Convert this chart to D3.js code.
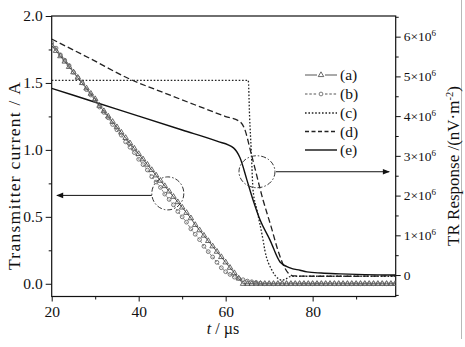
<!DOCTYPE html>
<html><head><meta charset="utf-8">
<script src="https://cdn.jsdelivr.net/npm/d3@7"></script>
<style>
body{margin:0;background:#fff}
svg{display:block}
text{font-family:"Liberation Serif","Times New Roman",serif;fill:#111}
</style>
</head><body>
<svg id="c" width="465" height="347"></svg>
<script>
// ---------- data ----------
const timeI = [20,21,22,23,24,25,26,27,28,29,30,31,32,33,34,35,36,37,38,39,
               40,41,42,43,44,45,46,47,48,49,50,51,52,53,54,55,56,57,58,59,
               60,61,62,63,64,65,66,67,68,69,70,71,72,73,74,75,76,77,78,79,
               80,81,82,83,84,85,86,87,88,89,90,91,92,93,94,95,96,97,98,99];
const currentA = [1.78,1.74,1.70,1.66,1.62,1.58,1.54,1.50,1.46,1.42,
                  1.38,1.33,1.29,1.25,1.21,1.17,1.13,1.09,1.05,1.01,
                  0.97,0.93,0.89,0.85,0.81,0.77,0.73,0.69,0.65,0.61,
                  0.57,0.53,0.49,0.44,0.40,0.36,0.32,0.28,0.24,0.20,
                  0.16,0.12,0.08,0.04,0.00,0,0,0,0,0,
                  0,0,0,0,0,0,0,0,0,0,
                  0,0,0,0,0,0,0,0,0,0,
                  0,0,0,0,0,0,0,0,0,0];
const currentB = [1.80,1.76,1.71,1.67,1.63,1.58,1.54,1.50,1.45,1.41,
                  1.37,1.32,1.28,1.24,1.19,1.15,1.11,1.06,1.02,0.98,
                  0.93,0.89,0.85,0.80,0.76,0.72,0.67,0.63,0.59,0.54,
                  0.50,0.46,0.41,0.37,0.33,0.28,0.24,0.20,0.16,0.12,
                  0.09,0.07,0.05,0.04,0.03,0.02,0.015,0.01,0.005,0,
                  0,0,0,0,0,0,0,0,0,0,
                  0,0,0,0,0,0,0,0,0,0,
                  0,0,0,0,0,0,0,0,0,0];
const timeC = [20,65.2,65.5,65.9,66.3,67.2,68.6,69.0,70.6,72.0,73.0,74.0,74.8,77,99.1];
const respC = [4.9e6,4.9e6,4.0e6,3.1e6,2.14e6,1.64e6,0.88e6,0.63e6,0.13e6,-0.08e6,-0.13e6,-0.09e6,-0.04e6,-0.03e6,-0.03e6];
const timeD = [20,29,38,46,54,60,63.3,64.2,66,68.6,70.5,72,73.5,74.3,75.5,80,90,99.1];
const respD = [5.94e6,5.44e6,4.93e6,4.58e6,4.24e6,3.99e6,3.86e6,3.72e6,3.0e6,1.89e6,1.2e6,0.63e6,0.2e6,0.06e6,-0.02e6,-0.03e6,-0.03e6,-0.02e6];
const timeE = [20,30,40,50,58,61.8,63.3,64.9,66.3,67.9,70.2,72.5,74.8,77.1,78.7,82,86.3,92,99.1];
const respE = [4.7e6,4.35e6,4.0e6,3.65e6,3.37e6,3.2e6,2.95e6,2.39e6,1.89e6,1.39e6,0.88e6,0.33e6,0.18e6,0.12e6,0.08e6,0.05e6,0.03e6,0.01e6,0.0];

const xTicks = [20,40,60,80];
const xMinor = [30,50,70,90];
const yLTicks = [0,0.5,1.0,1.5,2.0];
const yLMinor = [0.25,0.75,1.25,1.75];
const yRTicks = [0,1e6,2e6,3e6,4e6,5e6,6e6];
const yRMinor = [-0.5e6,0.5e6,1.5e6,2.5e6,3.5e6,4.5e6,5.5e6,6.5e6];
const legendLabels = ["(a)","(b)","(c)","(d)","(e)"];

// ---------- layout ----------
const L=51.7, R=395.7, T=16, B=296.5;
const svg = d3.select("#c");
const x = d3.scaleLinear().domain([20,99.1]).range([L,R]);
const yL = d3.scaleLinear().domain([-0.095,2.0]).range([B,T]);
const yR = d3.scaleLinear().domain([-0.54e6,6.52e6]).range([B,T]);

svg.append("rect").attr("width",465).attr("height",347).attr("fill","#fff");
svg.append("line").attr("x1",461.5).attr("x2",461.5).attr("y1",0).attr("y2",339)
   .attr("stroke","#b8b8b8").attr("stroke-width",1);

const defs = svg.append("defs");
defs.append("clipPath").attr("id","clip").append("rect")
   .attr("x",L).attr("y",T).attr("width",R-L).attr("height",B-T);
defs.append("marker").attr("id","ah").attr("viewBox","0 0 10 10")
   .attr("refX",9).attr("refY",5).attr("markerWidth",8).attr("markerHeight",7)
   .attr("markerUnits","userSpaceOnUse").attr("orient","auto")
   .append("path").attr("d","M0,1 L10,5 L0,9 Z").attr("fill","#111");

const fs = 15.5;
function styleAxis(g, size){
  g.select(".domain").remove();
  g.selectAll(".tick line").attr("stroke","#111").attr("stroke-width",1);
  g.selectAll(".tick text").attr("font-size",size).attr("fill","#111");
}
// bottom
svg.append("g").attr("transform",`translate(0,${B})`)
  .call(d3.axisBottom(x).tickValues(xTicks).tickSize(5).tickPadding(4).tickFormat(d3.format("d")))
  .call(g=>styleAxis(g,fs));
svg.append("g").attr("transform",`translate(0,${B})`)
  .call(d3.axisBottom(x).tickValues(xMinor).tickSize(3).tickFormat(""))
  .call(g=>styleAxis(g,fs));
// left
svg.append("g").attr("transform",`translate(${L},0)`)
  .call(d3.axisLeft(yL).tickValues(yLTicks).tickSize(6).tickPadding(3).tickFormat(d3.format(".1f")))
  .call(g=>styleAxis(g,fs));
svg.append("g").attr("transform",`translate(${L},0)`)
  .call(d3.axisLeft(yL).tickValues(yLMinor).tickSize(3).tickFormat(""))
  .call(g=>styleAxis(g,fs));
// right
const gr = svg.append("g").attr("transform",`translate(${R},0)`)
  .call(d3.axisRight(yR).tickValues(yRTicks).tickSize(5).tickPadding(3).tickFormat(""))
  .call(g=>styleAxis(g,13.5));
gr.selectAll(".tick text").each(function(d){
  const t = d3.select(this).text(null).attr("font-size",13.5);
  if(d===0){ t.append("tspan").text("0"); }
  else {
    t.append("tspan").text(`${d/1e6}×10`);
    t.append("tspan").attr("dy",-5).attr("font-size",9).text("6");
  }
});
svg.append("g").attr("transform",`translate(${R},0)`)
  .call(d3.axisRight(yR).tickValues(yRMinor.filter(v=>yR(v)<=B && yR(v)>=T)).tickSize(3).tickFormat(""))
  .call(g=>styleAxis(g,fs));

// frame
svg.append("rect").attr("x",L).attr("y",T).attr("width",R-L).attr("height",B-T)
  .attr("fill","none").attr("stroke","#111").attr("stroke-width",1.2);

// axis titles
svg.append("text").attr("transform","translate(20,176) rotate(-90)")
  .attr("text-anchor","middle").attr("font-size",17.5)
  .attr("textLength",188).attr("lengthAdjust","spacing")
  .text("Transmitter current / A");
const rt = svg.append("text").attr("transform","translate(459,166) rotate(-90)")
  .attr("text-anchor","middle").attr("font-size",17);
rt.append("tspan").text("TR Response /(nV·m");
rt.append("tspan").attr("dy",-6).attr("font-size",10.5).text("-2");
rt.append("tspan").attr("dy",6).text(")");
const xt = svg.append("text").attr("x",223).attr("y",334).attr("text-anchor","middle").attr("font-size",16);
xt.append("tspan").attr("font-style","italic").text("t");
xt.append("tspan").text(" / µs");

// ---------- series ----------
const plot = svg.append("g").attr("clip-path","url(#clip)");
const lineI = d3.line().x(d=>x(d[0])).y(d=>yL(d[1]));
const lineR = d3.line().x(d=>x(d[0])).y(d=>yR(d[1])).curve(d3.curveMonotoneX);

const dA = timeI.map((t,i)=>[t,currentA[i]]);
const dB = timeI.map((t,i)=>[t,currentB[i]]);
const dC = timeC.map((t,i)=>[t,respC[i]]);
const dD = timeD.map((t,i)=>[t,respD[i]]);
const dE = timeE.map((t,i)=>[t,respE[i]]);

plot.append("path").datum(dC).attr("d",lineR).attr("fill","none")
  .attr("stroke","#222").attr("stroke-width",1.3).attr("stroke-dasharray","1.6,1.8");
plot.append("path").datum(dD).attr("d",lineR).attr("fill","none")
  .attr("stroke","#222").attr("stroke-width",1.3).attr("stroke-dasharray","6,3");
plot.append("path").datum(dE).attr("d",lineR).attr("fill","none")
  .attr("stroke","#111").attr("stroke-width",1.4);

plot.append("path").datum(dB).attr("d",lineI).attr("fill","none")
  .attr("stroke","#777").attr("stroke-width",0.9).attr("stroke-dasharray","2.5,1.5");
plot.append("path").datum(dA).attr("d",lineI).attr("fill","none")
  .attr("stroke","#555").attr("stroke-width",1);

const tri = d3.symbol().type(d3.symbolTriangle).size(13);
plot.selectAll(".ta").data(dA).join("path")
  .attr("transform",d=>`translate(${x(d[0])},${yL(d[1])})`)
  .attr("d",tri).attr("fill","none").attr("stroke","#444").attr("stroke-width",0.8);
plot.selectAll(".cb").data(dB).join("circle")
  .attr("cx",d=>x(d[0])).attr("cy",d=>yL(d[1])).attr("r",1.9)
  .attr("fill","none").attr("stroke","#6a6a6a").attr("stroke-width",0.9);

// ---------- annotations ----------
const dash = "5,2,1.5,2";
const e1 = [46.7,0.675], e2 = [67.2,2.6e6];
svg.append("ellipse").attr("cx",x(e1[0])).attr("cy",yL(e1[1])).attr("rx",16).attr("ry",16.5)
  .attr("fill","none").attr("stroke","#333").attr("stroke-dasharray",dash);
svg.append("line").attr("x1",x(e1[0])-16).attr("y1",yL(e1[1])+2).attr("x2",x(21.2)).attr("y2",yL(e1[1])+2)
  .attr("stroke","#111").attr("stroke-width",1).attr("marker-end","url(#ah)");
svg.append("ellipse").attr("cx",x(e2[0])).attr("cy",yR(e2[1])).attr("rx",18).attr("ry",16)
  .attr("fill","none").attr("stroke","#333").attr("stroke-dasharray",dash);
svg.append("line").attr("x1",x(e2[0])+19).attr("y1",yR(e2[1])).attr("x2",x(97.6)).attr("y2",yR(e2[1]))
  .attr("stroke","#111").attr("stroke-width",1).attr("marker-end","url(#ah)");

// ---------- legend ----------
const lg = svg.append("g");
const ly = [75,94,113,131.5,150];
const lx0=305, lx1=337;
const styles = [
  {stroke:"#555",dash:null,w:1},
  {stroke:"#555",dash:"2.5,1.8",w:1},
  {stroke:"#222",dash:"1.6,1.8",w:1.3},
  {stroke:"#222",dash:"4,2.5",w:1.3},
  {stroke:"#111",dash:null,w:1.4}
];
legendLabels.forEach((lab,i)=>{
  const s = styles[i];
  if(i<2){
    lg.append("line").attr("x1",lx0).attr("x2",lx0+12).attr("y1",ly[i]).attr("y2",ly[i])
      .attr("stroke",s.stroke).attr("stroke-width",s.w).attr("stroke-dasharray",s.dash);
    lg.append("line").attr("x1",lx1-12).attr("x2",lx1).attr("y1",ly[i]).attr("y2",ly[i])
      .attr("stroke",s.stroke).attr("stroke-width",s.w).attr("stroke-dasharray",s.dash);
    if(i===0) lg.append("path").attr("transform",`translate(${(lx0+lx1)/2},${ly[i]})`)
      .attr("d",tri).attr("fill","none").attr("stroke","#444").attr("stroke-width",0.8);
    else lg.append("circle").attr("cx",(lx0+lx1)/2).attr("cy",ly[i]).attr("r",1.9)
      .attr("fill","none").attr("stroke","#6a6a6a").attr("stroke-width",0.9);
  } else {
    lg.append("line").attr("x1",lx0).attr("x2",lx1).attr("y1",ly[i]).attr("y2",ly[i])
      .attr("stroke",s.stroke).attr("stroke-width",s.w).attr("stroke-dasharray",s.dash);
  }
  lg.append("text").attr("x",340).attr("y",ly[i]+5).attr("font-size",15.5).text(lab);
});
</script>
</body></html>
